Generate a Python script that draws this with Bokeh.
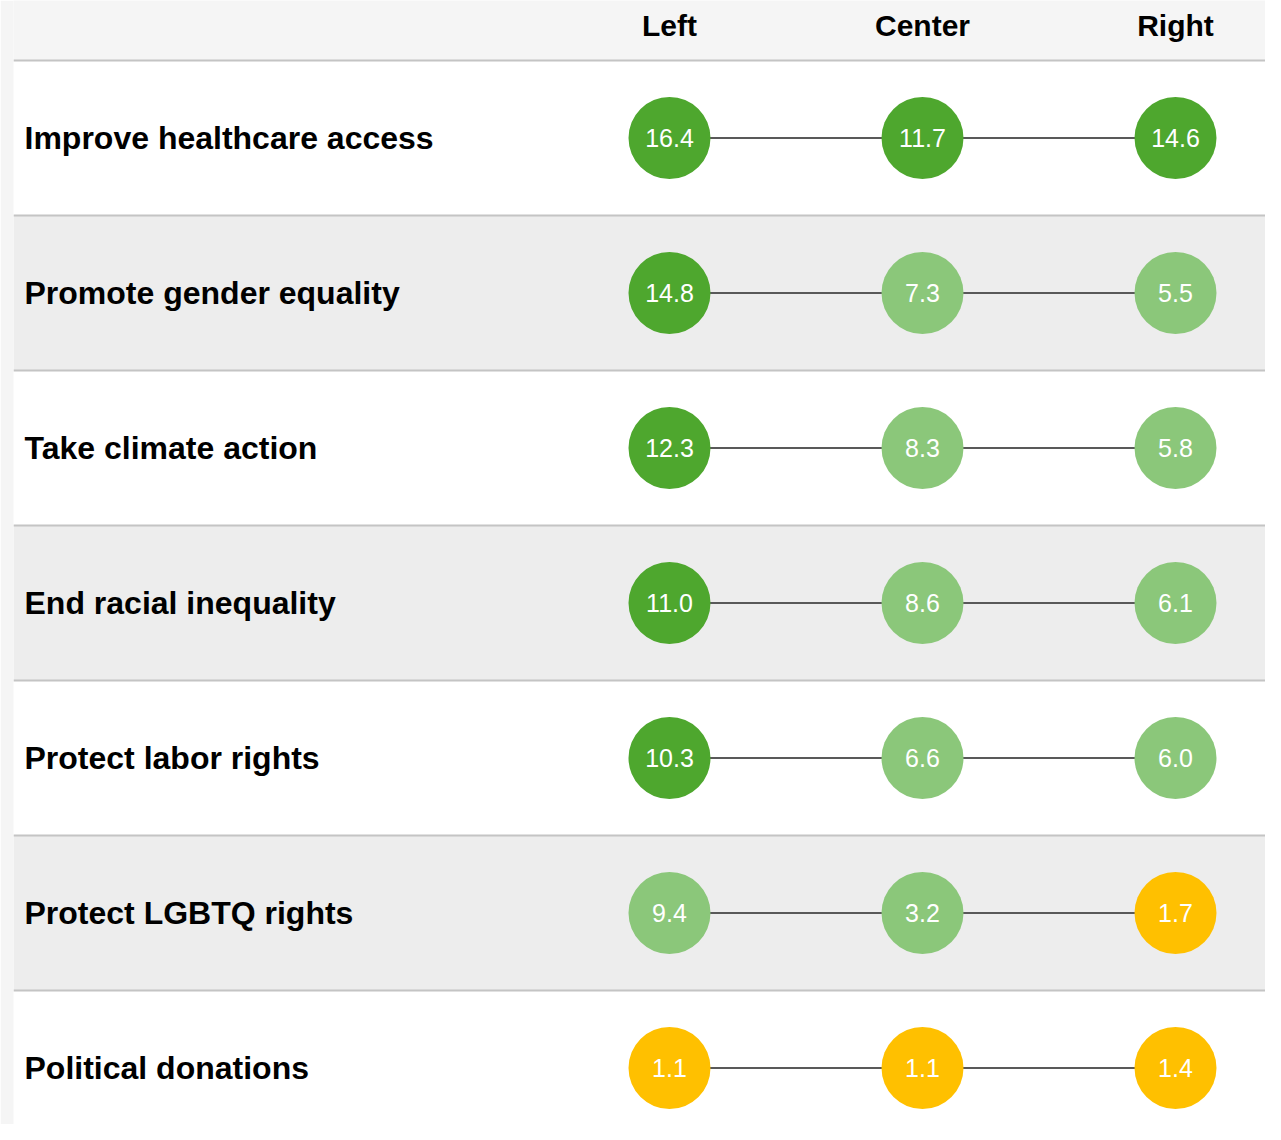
from bokeh.plotting import figure
from bokeh.models import Range1d, ColumnDataSource
from bokeh.core.properties import value
from bokeh.embed import file_html
from bokeh.resources import INLINE

# ---- data ----
categories = [
    "Improve healthcare access",
    "Promote gender equality",
    "Take climate action",
    "End racial inequality",
    "Protect labor rights",
    "Protect LGBTQ rights",
    "Political donations",
]
groups = ["Left", "Center", "Right"]
left_values = [16.4, 14.8, 12.3, 11.0, 10.3, 9.4, 1.1]
center_values = [11.7, 7.3, 8.3, 8.6, 6.6, 3.2, 1.1]
right_values = [14.6, 5.5, 5.8, 6.1, 6.0, 1.7, 1.4]

# ---- style / layout constants ----
W, H = 1265, 1124
ROW_PX = 155
HEADER_PX = 60
COL_PX = 253
FRAME_LEFT = 13
COL0_FIG_X = 669
DARK_GREEN = "#4ea72e"
LIGHT_GREEN = "#8bc77a"
YELLOW = "#ffc000"
FONT = "Liberation Sans"


def color_for(v):
    if v >= 10:
        return DARK_GREEN
    if v >= 2:
        return LIGHT_GREEN
    return YELLOW


n = len(categories)
x_start = (FRAME_LEFT - COL0_FIG_X) / COL_PX
x_end = x_start + (W - FRAME_LEFT) / COL_PX
y_top = -HEADER_PX / ROW_PX
y_bottom = (H - HEADER_PX) / ROW_PX

p = figure(
    width=W, height=H,
    x_range=Range1d(x_start, x_end),
    y_range=Range1d(y_bottom, y_top),
    output_backend="svg", toolbar_location=None,
    min_border_left=FRAME_LEFT, min_border_right=0,
    min_border_top=0, min_border_bottom=0,
)
p.axis.visible = False
p.grid.visible = False
p.outline_line_color = None
p.border_fill_color = "#f5f5f5"
p.background_fill_color = "#f5f5f5"

rows = list(range(n))
# row bands
p.quad(left=x_start, right=x_end,
       top=rows, bottom=[r + 1 for r in rows],
       fill_color=["#ffffff" if r % 2 == 0 else "#ededed" for r in rows],
       line_color=None)
# separators
p.segment(x0=[x_start] * n, x1=[x_end] * n, y0=rows, y1=rows,
          line_color="#c4c4c4", line_width=2)

centers = [r + 0.5 for r in rows]
# connecting lines
p.segment(x0=[0] * n, x1=[2] * n, y0=centers, y1=centers,
          line_color="#595959", line_width=2)

xs, ys, vals, cols, labels = [], [], [], [], []
for gi, series in enumerate([left_values, center_values, right_values]):
    for ri, v in enumerate(series):
        xs.append(gi)
        ys.append(ri + 0.5)
        vals.append(v)
        cols.append(color_for(v))
        labels.append(f"{v:.1f}")
src = ColumnDataSource(dict(x=xs, y=ys, v=vals, c=cols, t=labels))
p.scatter("x", "y", source=src, size=82, fill_color="c", line_color=None)
p.text("x", "y", text="t", source=src, text_color="white",
       text_font=value(FONT), text_font_size="25px",
       text_align="center", text_baseline="middle")

# row labels
p.text(x=[x_start + 11 / COL_PX] * n, y=centers, text=categories,
       text_font=value(FONT), text_font_size="32px", text_font_style="bold",
       text_color="#000000", text_align="left", text_baseline="middle")

# header labels
p.text(x=[0, 1, 2], y=[y_top + 25 / ROW_PX] * 3, text=groups,
       text_font=value(FONT), text_font_size="30px", text_font_style="bold",
       text_color="#000000", text_align="center", text_baseline="middle")

open("out.html", "w").write(file_html(p, INLINE))
